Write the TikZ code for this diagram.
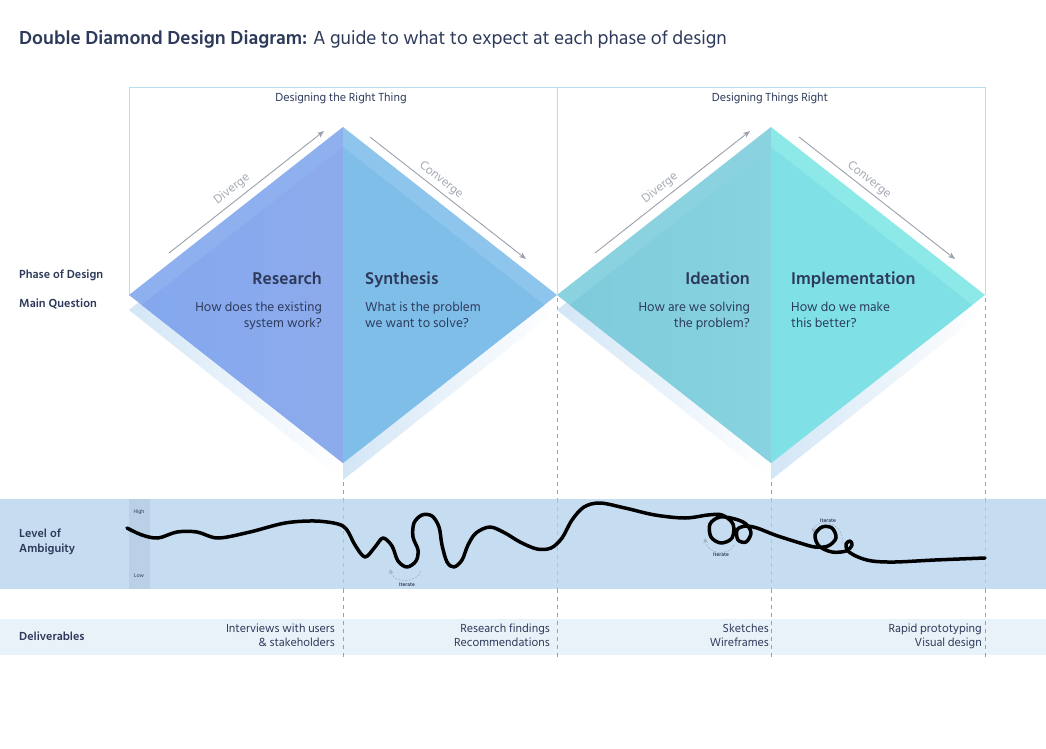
\documentclass[tikz,border=0pt]{standalone}
\usepackage{fontspec}
\setmainfont{Hind Siliguri}
\usetikzlibrary{arrows.meta,calc}
\definecolor{navy}{HTML}{2D3A5A}
\definecolor{boxline}{HTML}{B3DFF0}
\definecolor{dashc}{HTML}{9A9FAA}
\definecolor{dashlight}{HTML}{AFC3D8}
\definecolor{arrowgrey}{HTML}{9AA0AC}
\definecolor{labgrey}{HTML}{A3A9B4}
\definecolor{dOneL}{HTML}{83A7EE}
\definecolor{dOneLc}{HTML}{8DABEC}
\definecolor{dOneLb}{HTML}{8EB0EE}
\definecolor{dOneR}{HTML}{80BEEA}
\definecolor{dOneRb}{HTML}{8DC5EC}
\definecolor{dTwoL}{HTML}{7ECADC}
\definecolor{dTwoLc}{HTML}{88D3DF}
\definecolor{dTwoLb}{HTML}{8AD2DF}
\definecolor{dTwoR}{HTML}{7FE1E5}
\definecolor{dTwoRb}{HTML}{8DE8E8}
\definecolor{shadowc}{HTML}{D3E6F6}
\definecolor{bandc}{HTML}{C6DCF0}
\definecolor{bandcol}{HTML}{B9D0E6}
\definecolor{delivc}{HTML}{E9F1F9}
\definecolor{iterc}{HTML}{A3B2C2}
\tikzset{
  txt/.style={inner sep=0pt, text=navy},
  phasehead/.style={txt, font=\fontsize{17.5}{20}\selectfont\bfseries},
  question/.style={txt, font=\fontsize{13.3}{16}\selectfont},
  rowlabel/.style={txt, font=\fontsize{12}{14}\selectfont\bfseries},
  deliv/.style={txt, font=\fontsize{12}{14}\selectfont, align=right, anchor=north east},
  toplabel/.style={txt, font=\fontsize{12}{13}\selectfont},
  phasearrow/.style={draw=arrowgrey, line width=0.9pt, -{Stealth[length=7pt,width=5.5pt]}},
  arrowlabel/.style={inner sep=0pt, text=labgrey, font=\fontsize{12.5}{13}\selectfont},
  boxedge/.style={draw=boxline, line width=0.9pt},
  divider/.style={draw=dashc, line width=0.8pt, dash pattern=on 4pt off 4pt},
  squiggle/.style={draw=black, line width=3.5pt, line cap=round, line join=round},
  iterarrow/.style={draw=iterc, line width=0.6pt, dash pattern=on 2pt off 1.5pt, -{Stealth[length=5pt,width=4.5pt]}},
  iterlabel/.style={inner sep=0pt, text=navy, font=\fontsize{5.3}{6}\selectfont\bfseries},
  tinylabel/.style={inner sep=0pt, text=navy, font=\fontsize{5.5}{6}\selectfont},
}
\begin{document}
\begin{tikzpicture}[x=1pt,y=-1pt]
\useasboundingbox (0,0) rectangle (1046,749);
\fill[white] (0,0) rectangle (1046,749);

% title
\node[txt, anchor=base west, font=\fontsize{19.3}{22}\selectfont] (title) at (19,45)
  {{\bfseries Double Diamond Design Diagram:} A guide to what to expect at each phase of design};

% bands
\fill[bandc] (0,499) rectangle (1046,589);
\fill[bandcol] (129,499) rectangle (150,589);
\fill[delivc] (0,619) rectangle (1046,655);

% dashed dividers
\foreach \x in {343,557,771,985}{
  \draw[divider] (\x,298) -- (\x,499);
  \draw[divider, draw=dashlight] (\x,499) -- (\x,589);
  \draw[divider] (\x,589) -- (\x,660);
}

% box lines
\draw[boxedge] (129,295) -- (129,87) -- (985,87) -- (985,295);
\draw[boxedge] (557,87) -- (557,295);

% shadows
\shade[left color=shadowc, right color=white] (129,310) -- (343,142) -- (343,480) -- cycle;
\shade[left color=shadowc, right color=white] (343,142) -- (557,310) -- (343,480) -- cycle;
\shade[left color=shadowc, right color=white] (557,310) -- (771,142) -- (771,480) -- cycle;
\shade[left color=shadowc, right color=white] (771,142) -- (985,310) -- (771,480) -- cycle;

% diamond one
\fill[dOneLb] (129,295) -- (343,127) -- (343,463) -- cycle;
\begin{scope}
  \clip (129,295) -- (343,127) -- (343,463) -- cycle;
  \shade[left color=dOneL, right color=dOneLc] (129,315) -- (343,147) -- (343,483) -- cycle;
\end{scope}
\fill[dOneRb] (343,127) -- (557,295) -- (343,463) -- cycle;
\begin{scope}
  \clip (343,127) -- (557,295) -- (343,463) -- cycle;
  \fill[dOneR] (343,147) -- (557,315) -- (343,483) -- cycle;
\end{scope}
% diamond two
\fill[dTwoLb] (557,295) -- (771,127) -- (771,463) -- cycle;
\begin{scope}
  \clip (557,295) -- (771,127) -- (771,463) -- cycle;
  \shade[left color=dTwoL, right color=dTwoLc] (557,315) -- (771,147) -- (771,483) -- cycle;
\end{scope}
\fill[dTwoRb] (771,127) -- (985,295) -- (771,463) -- cycle;
\begin{scope}
  \clip (771,127) -- (985,295) -- (771,463) -- cycle;
  \fill[dTwoR] (771,147) -- (985,315) -- (771,483) -- cycle;
\end{scope}

% top labels
\node[toplabel, anchor=base] (drt) at (341,102) {Designing the Right Thing};
\node[toplabel, anchor=base] (dtr) at (770,102) {Designing Things Right};

% diverge / converge arrows
\coordinate (dvAs) at (169,253); \coordinate (dvAe) at (324,131);
\coordinate (cvAs) at (370,137); \coordinate (cvAe) at (526,259);
\coordinate (dvBs) at (595,253); \coordinate (dvBe) at (750,131);
\coordinate (cvBs) at (799,137); \coordinate (cvBe) at (955,259);
\draw[phasearrow] (dvAs) -- (dvAe);
\draw[phasearrow] (cvAs) -- (cvAe);
\draw[phasearrow] (dvBs) -- (dvBe);
\draw[phasearrow] (cvBs) -- (cvBe);
\node[arrowlabel, rotate=38] (dvAl) at (232,189) {Diverge};
\node[arrowlabel, rotate=-38] (cvAl) at (441,180) {Converge};
\node[arrowlabel, rotate=38] (dvBl) at (660,188) {Diverge};
\node[arrowlabel, rotate=-38] (cvBl) at (869,180) {Converge};

% row labels
\node[rowlabel, anchor=base west] (phase) at (19,278) {Phase of Design};
\node[rowlabel, anchor=base west] (mainq) at (19,307) {Main Question};
\node[rowlabel, anchor=north west, align=left, font=\fontsize{12}{15}\selectfont\bfseries] (amb) at (19,529) {Level of\\Ambiguity};
\node[rowlabel, anchor=base west] (delivl) at (19,640) {Deliverables};

% phase headings
\node[phasehead, anchor=base east] (research) at (322,284) {Research};
\node[phasehead, anchor=base west] (synthesis) at (365,284) {Synthesis};
\node[phasehead, anchor=base east] (ideation) at (750,284) {Ideation};
\node[phasehead, anchor=base west] (implementation) at (791,284) {Implementation};

% questions
\node[question, anchor=north east, align=right] (qA) at (322,302) {How does the existing\\system work?};
\node[question, anchor=north west, align=left] (qB) at (365,302) {What is the problem\\we want to solve?};
\node[question, anchor=north east, align=right] (qC) at (750,302) {How are we solving\\the problem?};
\node[question, anchor=north west, align=left] (qD) at (791,302) {How do we make\\this better?};

% high / low
\node[tinylabel] (high) at (139,512) {High};
\node[tinylabel] (low) at (139,576) {Low};

% ambiguity squiggle
\draw[squiggle] plot[smooth, tension=0.55] coordinates {
 (127,528) (142,535) (158,538) (177,532) (197,532) (218,538) (250,532) (285,523)
 (315,521) (338,524) (347,530) (355,545) (365,557) (375,547) (383,538) (392,546)
 (398,561) (407,567) (416,561) (418,550) (413,537) (414,523) (422,515) (432,516)
 (439,527) (442,545) (447,562) (454,567) (462,560) (468,545) (476,533) (490,527)
 (505,533) (520,542)
 (537,549) (551,548) (562,538) (572,520) (584,507) (600,503) (625,508) (655,515)
 (685,518) (708,515) (722,515) (733,524) (732,538) (721,543) (711,537) (710,524)
 (720,517) (735,519) (746,524) (751,533) (746,542) (738,540) (737,530) (745,526)
 (757,528) (775,535) (800,543) (815,547) (828,546) (836,538) (832,528) (822,527)
 (815,535) (819,546) (832,552) (846,551) (852,545) (850,541) (846,544) (848,551)
 (858,557) (872,561) (895,562) (935,560) (985,558)};

% iterate markers
\coordinate (itAs) at (421,571); \coordinate (itAe) at (390,569);
\coordinate (itBs) at (734,545); \coordinate (itBe) at (705,538);
\coordinate (itCs) at (842,543); \coordinate (itCe) at (813,533);
\draw[iterarrow] (itAs) .. controls (417,583) and (394,584) .. (itAe);
\draw[iterarrow] (itBs) .. controls (730,556) and (707,555) .. (itBe);
\draw[iterarrow] (itCs) .. controls (846,523) and (816,516) .. (itCe);
\node[iterlabel] (itA) at (407,585) {Iterate};
\node[iterlabel] (itB) at (721,555) {Iterate};
\node[iterlabel] (itC) at (828,521) {Iterate};

% deliverables
\node[deliv] (dA) at (335,624) {Interviews with users\\\& stakeholders};
\node[deliv] (dB) at (550,624) {Research findings\\Recommendations};
\node[deliv] (dC) at (769,624) {Sketches\\Wireframes};
\node[deliv] (dD) at (982,624) {Rapid prototyping\\Visual design};
\end{tikzpicture}
\end{document}
